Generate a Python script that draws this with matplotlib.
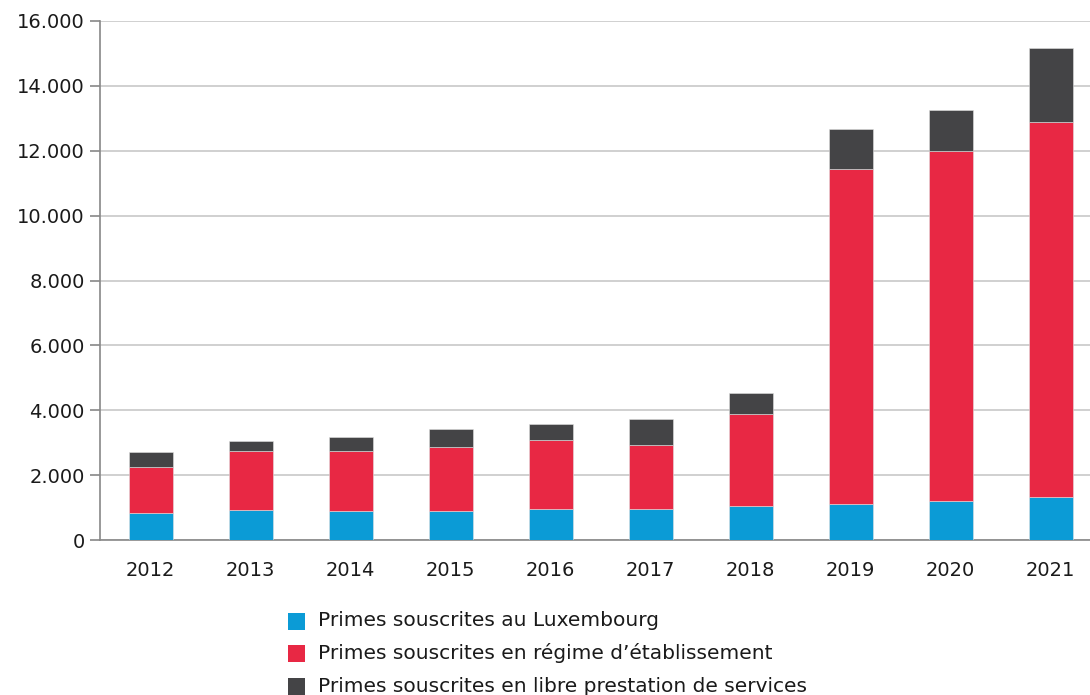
import matplotlib
matplotlib.use("Agg")
import matplotlib.pyplot as plt
from matplotlib.patches import Rectangle

years = ["2012", "2013", "2014", "2015", "2016", "2017", "2018", "2019", "2020", "2021"]
lux = [820, 925, 885, 885, 945, 965, 1040, 1110, 1190, 1335]
etab = [1420, 1815, 1855, 1975, 2135, 1955, 2840, 10320, 10800, 11545]
lps = [470, 300, 430, 570, 500, 800, 660, 1230, 1260, 2280]
series_labels = ["Primes souscrites au Luxembourg",
                 "Primes souscrites en régime d’établissement",
                 "Primes souscrites en libre prestation de services"]
yticks = [0, 2000, 4000, 6000, 8000, 10000, 12000, 14000, 16000]
ytick_labels = ["0", "2.000", "4.000", "6.000", "8.000", "10.000", "12.000", "14.000", "16.000"]

colors = ["#0B9BD6", "#E82844", "#444446"]

plt.rcParams['font.family'] = ['DejaVu Sans']

W, H = 1090, 695
fig = plt.figure(figsize=(W / 100, H / 100), dpi=100)
ax = fig.add_axes([100 / W, 155 / H, 990 / W, 519 / H])

x = list(range(len(years)))
w = 0.44
bottom2 = [a + b for a, b in zip(lux, etab)]
ax.bar(x, lux, w, color=colors[0], edgecolor="#e0e0e0", linewidth=0.4, zorder=3)
ax.bar(x, etab, w, bottom=lux, color=colors[1], edgecolor="#e0e0e0", linewidth=0.4, zorder=3)
ax.bar(x, lps, w, bottom=bottom2, color=colors[2], edgecolor="#e0e0e0", linewidth=0.4, zorder=3)

ax.set_xlim(-0.505, 9.395)
ax.set_ylim(0, 16000)
ax.set_yticks(yticks)
ax.set_yticklabels(ytick_labels)
ax.set_xticks(x)
ax.set_xticklabels(years)
ax.yaxis.grid(True, color="#c8c8c8", linewidth=1.2, zorder=0)
ax.set_axisbelow(True)
for s in ["top", "right"]:
    ax.spines[s].set_visible(False)
ax.spines["left"].set_color("#888888")
ax.spines["left"].set_linewidth(1.2)
ax.spines["bottom"].set_color("#888888")
ax.spines["bottom"].set_linewidth(1.2)
ax.tick_params(axis="y", length=7, width=1.2, color="#888888", labelsize=14, labelcolor="#1a1a1a", pad=4)
ax.tick_params(axis="x", length=0, labelsize=14, labelcolor="#1a1a1a", pad=15)

# legend (manual, figure pixel coords)
row_y = [621, 653, 686]
for c, lab, yy in zip(colors, series_labels, row_y):
    fig.patches.append(Rectangle((288 / W, 1 - (yy + 9) / H), 17 / W, 17 / H,
                                 transform=fig.transFigure, facecolor=c, edgecolor="none"))
    fig.text(318 / W, 1 - yy / H, lab, fontsize=14.5, color="#1a1a1a", va="center", ha="left")

fig.savefig("out.png", dpi=100)
